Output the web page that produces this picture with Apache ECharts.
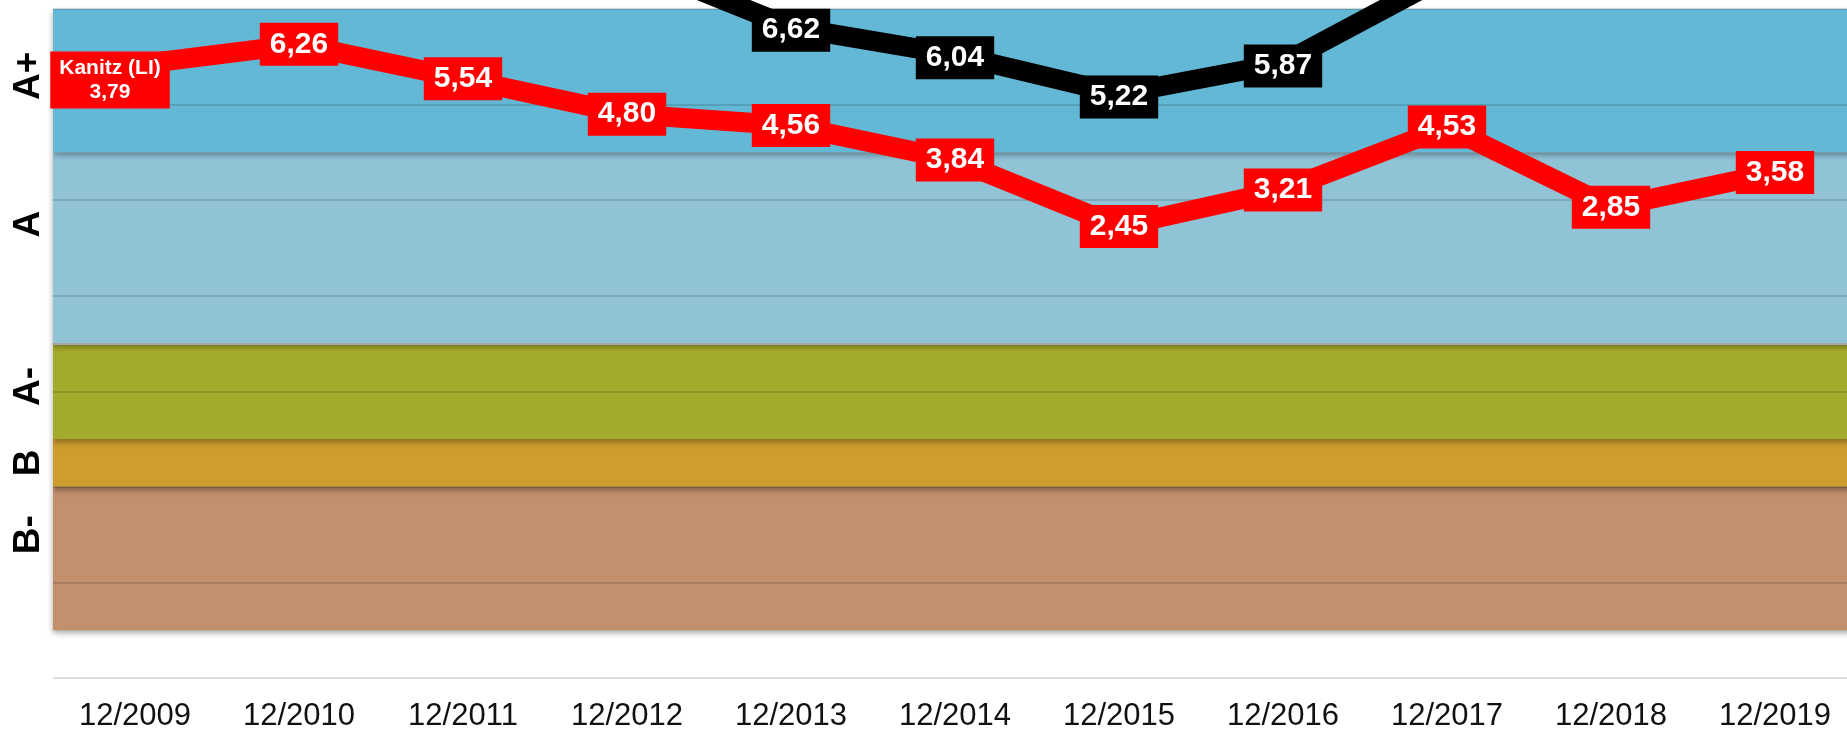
<!DOCTYPE html>
<html>
<head>
<meta charset="utf-8">
<script src="https://cdn.jsdelivr.net/npm/echarts@6/dist/echarts.min.js"></script>
<style>
html, body { margin: 0; padding: 0; background: #fff; }
#main { width: 1847px; height: 729px; }
</style>
</head>
<body>
<div id="main"></div>
<script>
var categories = ['12/2009', '12/2010', '12/2011', '12/2012', '12/2013', '12/2014', '12/2015', '12/2016', '12/2017', '12/2018', '12/2019'];
// Kanitz value where the red line is drawn (axis runs -7 .. 7)
var kanitzLine = [5.83, 6.26, 5.54, 4.80, 4.56, 3.84, 2.45, 3.21, 4.53, 2.85, 3.58];
// numbers printed in the red boxes
var kanitzLabels = [3.79, 6.26, 5.54, 4.80, 4.56, 3.84, 2.45, 3.21, 4.53, 2.85, 3.58];
// black line, its ends run out over the top of the chart
var otherLine = [null, null, null, 8.0, 6.62, 6.04, 5.22, 5.87, 7.7, null, null];

var ratingNames = ['B-', 'B', 'A-', 'A', 'A+'];
var ratingFrom = [-6, -3, -2, 0, 4];
var ratingTo = [-3, -2, 0, 4, 7];
var ratingLabelAt = [-4.0, -2.5, -0.9, 2.5, 5.6];
var ratingColors = ['#c3906e', '#cf9d2f', '#a4aa2c', '#91c3d7', '#63b8d5'];

var fontFam = '"Liberation Sans", Arial, sans-serif';

function fmt(v) {
    return v.toFixed(2).replace('.', ',');
}

var myChart = echarts.init(document.getElementById('main'));

var bands = [];
for (var i = 0; i < ratingNames.length; i++) {
    bands.push([{
        yAxis: ratingFrom[i],
        itemStyle: {
            color: ratingColors[i],
            shadowColor: 'rgba(0,0,0,0.35)',
            shadowBlur: 6,
            shadowOffsetY: 3
        }
    }, {
        yAxis: ratingTo[i]
    }]);
}

var redData = kanitzLine.map(function(v, i) {
    if (i == 0) {
        return {
            value: v,
            label: {
                formatter: 'Kanitz (LI)\n' + fmt(kanitzLabels[0]),
                fontSize: 21,
                lineHeight: 24,
                padding: [5, 9, 4, 9],
                offset: [-25, 15]
            }
        };
    }
    return v;
});

var option = {
    animation: false,
    grid: {
        left: 53,
        top: 9,
        width: 1804,
        height: 669,
        outerBoundsMode: 'none'
    },
    xAxis: {
        type: 'category',
        data: categories,
        boundaryGap: true,
        axisTick: { show: false },
        axisLine: { lineStyle: { color: '#a6a6a6', width: 2 } },
        axisLabel: {
            color: '#111',
            fontSize: 31,
            fontFamily: fontFam,
            margin: 23
        }
    },
    yAxis: {
        type: 'value',
        min: -7,
        max: 7,
        interval: 2,
        axisLine: { show: false },
        axisTick: { show: false },
        splitLine: { lineStyle: { color: 'rgba(0,0,0,0.13)', width: 2 } },
        axisLabel: {
            customValues: ratingLabelAt,
            formatter: function(v) {
                var k = ratingLabelAt.indexOf(v);
                return k >= 0 ? ratingNames[k] : '';
            },
            rotate: 90,
            margin: 6,
            color: '#000',
            fontSize: 37,
            fontWeight: 'bold',
            fontFamily: fontFam
        }
    },
    series: [{
        // rating bands
        type: 'line',
        z: -1,
        data: [],
        silent: true,
        markArea: {
            z: -1,
            silent: true,
            data: bands
        }
    }, {
        name: 'other',
        type: 'line',
        z: 3,
        data: otherLine,
        symbol: 'rect',
        symbolSize: 2,
        showSymbol: true,
        itemStyle: { color: '#000' },
        lineStyle: { color: '#000', width: 20, cap: 'butt' },
        label: {
            show: true,
            position: 'inside',
            offset: [0, 3],
            formatter: function(p) {
                return p.value > 7 ? '' : fmt(p.value);
            },
            color: '#fff',
            fontSize: 30,
            fontWeight: 'bold',
            fontFamily: fontFam,
            backgroundColor: '#000',
            padding: [7, 10, 6, 10]
        }
    }, {
        name: 'Kanitz (LI)',
        type: 'line',
        z: 4,
        data: redData,
        symbol: 'rect',
        symbolSize: 2,
        showSymbol: true,
        itemStyle: { color: '#ff0000' },
        lineStyle: { color: '#ff0000', width: 20, cap: 'butt' },
        label: {
            show: true,
            position: 'inside',
            formatter: function(p) {
                return fmt(kanitzLabels[p.dataIndex]);
            },
            color: '#fff',
            fontSize: 30,
            fontWeight: 'bold',
            fontFamily: fontFam,
            backgroundColor: '#ff0000',
            padding: [7, 10, 6, 10]
        }
    }]
};

myChart.setOption(option);
</script>
</body>
</html>
